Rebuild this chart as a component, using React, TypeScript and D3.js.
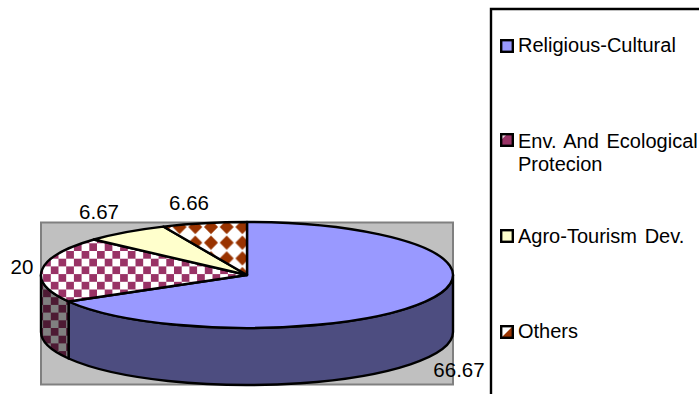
import React from "react";
import * as d3 from "d3";

const categories = ["Religious-Cultural", "Env. And Ecological Protecion", "Agro-Tourism Dev.", "Others"];
const shares = [66.67, 20, 6.67, 6.66];
const shareLabels = ["66.67", "20", "6.67", "6.66"];
const legendLines = [["Religious-Cultural"], ["Env. And Ecological", "Protecion"], ["Agro-Tourism Dev."], ["Others"]];

const WIDTH = 699;
const HEIGHT = 394;
const FONT = "'Liberation Sans', Arial, sans-serif";

// Tilted pie geometry: an ellipse for the top face, extruded downward.
const CX = 247;
const CY = 275;
const RX = 206;
const RY = 53;
const DEPTH = 57;

const topFills = ["#9999FF", "url(#checkMaroon)", "#FFFFCC", "url(#diamondBrown)"];
const wallFills = ["#4D4D80", "url(#checkMaroonDark)", "#80806A", "#80401A"];
const labelPos: [number, number][] = [
  [459, 377],
  [22, 274],
  [99, 219],
  [189, 210],
];
const legendSwatchFills = ["#9999FF", "url(#swatchMaroon)", "#FFFFCC", "url(#swatchBrown)"];
const legendSwatchY = [46, 140, 236, 332];
const legendBaseline = [52, 148, 243, 338];

const pt = (a: number, dy = 0): [number, number] => [CX + RX * Math.sin(a), CY - RY * Math.cos(a) + dy];

function topSlice(a0: number, a1: number): string {
  const [x0, y0] = pt(a0);
  const [x1, y1] = pt(a1);
  const large = a1 - a0 > Math.PI ? 1 : 0;
  return `M${CX},${CY}L${x0},${y0}A${RX},${RY} 0 ${large} 1 ${x1},${y1}Z`;
}

// Outer wall for the part of a slice that faces the viewer (90deg to 270deg from the top).
function wallSlice(a0: number, a1: number): string | null {
  const s = Math.max(a0, Math.PI / 2);
  const e = Math.min(a1, (3 * Math.PI) / 2);
  if (e <= s) return null;
  const [x0, y0] = pt(s);
  const [x1, y1] = pt(e);
  return `M${x0},${y0}A${RX},${RY} 0 0 1 ${x1},${y1}L${x1},${y1 + DEPTH}A${RX},${RY} 0 0 0 ${x0},${y0 + DEPTH}Z`;
}

export default function App() {
  const arcs = d3
    .pie<number>()
    .sort(null)
    .value((d) => d)(shares);

  const checker = (id: string, fg: string, bg: string) => (
    <pattern id={id} width={15.4} height={15.4} patternUnits="userSpaceOnUse" patternTransform="translate(43.1 258.7)">
      <rect width={15.4} height={15.4} fill={bg} />
      <rect width={7.7} height={7.7} fill={fg} />
      <rect x={7.7} y={7.7} width={7.7} height={7.7} fill={fg} />
    </pattern>
  );

  // Diamond weave: one brown diamond per tile, tips almost meeting their neighbours.
  const TILE = 15.7;
  const R = 7;
  const mid = TILE / 2;

  return (
    <svg
      width={WIDTH}
      height={HEIGHT}
      style={{ position: "absolute", left: 0, top: 0, background: "#fff" }}
      fontFamily={FONT}
    >
      <defs>
        {checker("checkMaroon", "#993366", "#FFFFFF")}
        {checker("checkMaroonDark", "#4D1A33", "#808080")}
        <pattern id="diamondBrown" width={TILE} height={TILE} patternUnits="userSpaceOnUse" patternTransform="translate(203.15 219.15)">
          <rect width={TILE} height={TILE} fill="#FFFFFF" />
          <path d={`M${mid},${mid - R}L${mid + R},${mid}L${mid},${mid + R}L${mid - R},${mid}Z`} fill="#993300" />
        </pattern>
        <linearGradient id="swatchMaroon" x1="0" y1="0" x2="1" y2="1">
          <stop offset="0.22" stopColor="#E8D0DC" />
          <stop offset="0.28" stopColor="#993366" />
        </linearGradient>
        <linearGradient id="swatchBrown" x1="0" y1="0" x2="1" y2="1">
          <stop offset="0.48" stopColor="#FFFFFF" />
          <stop offset="0.52" stopColor="#993300" />
        </linearGradient>
      </defs>

      <rect x={41} y={222.5} width={412} height={162} fill="#C0C0C0" stroke="#808080" strokeWidth={2} />

      {arcs.map((a, i) => {
        const d = wallSlice(a.startAngle, a.endAngle);
        return d ? <path key={categories[i]} d={d} fill={wallFills[i]} stroke="#000" strokeWidth={2.4} strokeLinejoin="round" /> : null;
      })}
      {arcs.map((a, i) => (
        <path key={categories[i]} d={topSlice(a.startAngle, a.endAngle)} fill={topFills[i]} stroke="#000" strokeWidth={2.4} strokeLinejoin="round" />
      ))}

      <g fontSize={20.5} fill="#000">
        {shareLabels.map((t, i) => (
          <text key={i} x={labelPos[i][0]} y={labelPos[i][1]} textAnchor="middle">
            {t}
          </text>
        ))}
      </g>

      <path d={`M${WIDTH + 4},9H491V${HEIGHT + 4}`} fill="none" stroke="#000" strokeWidth={2.4} />

      {legendLines.map((lines, i) => (
        <g key={i}>
          <rect x={501.2} y={legendSwatchY[i] - 5.8} width={11.6} height={11.6} fill={legendSwatchFills[i]} stroke="#000" strokeWidth={2.4} />
          {lines.map((l, j) => (
            <text key={j} x={518} y={legendBaseline[i] + j * 23} fontSize={20} wordSpacing={2.2} fill="#000">
              {l}
            </text>
          ))}
        </g>
      ))}
    </svg>
  );
}
